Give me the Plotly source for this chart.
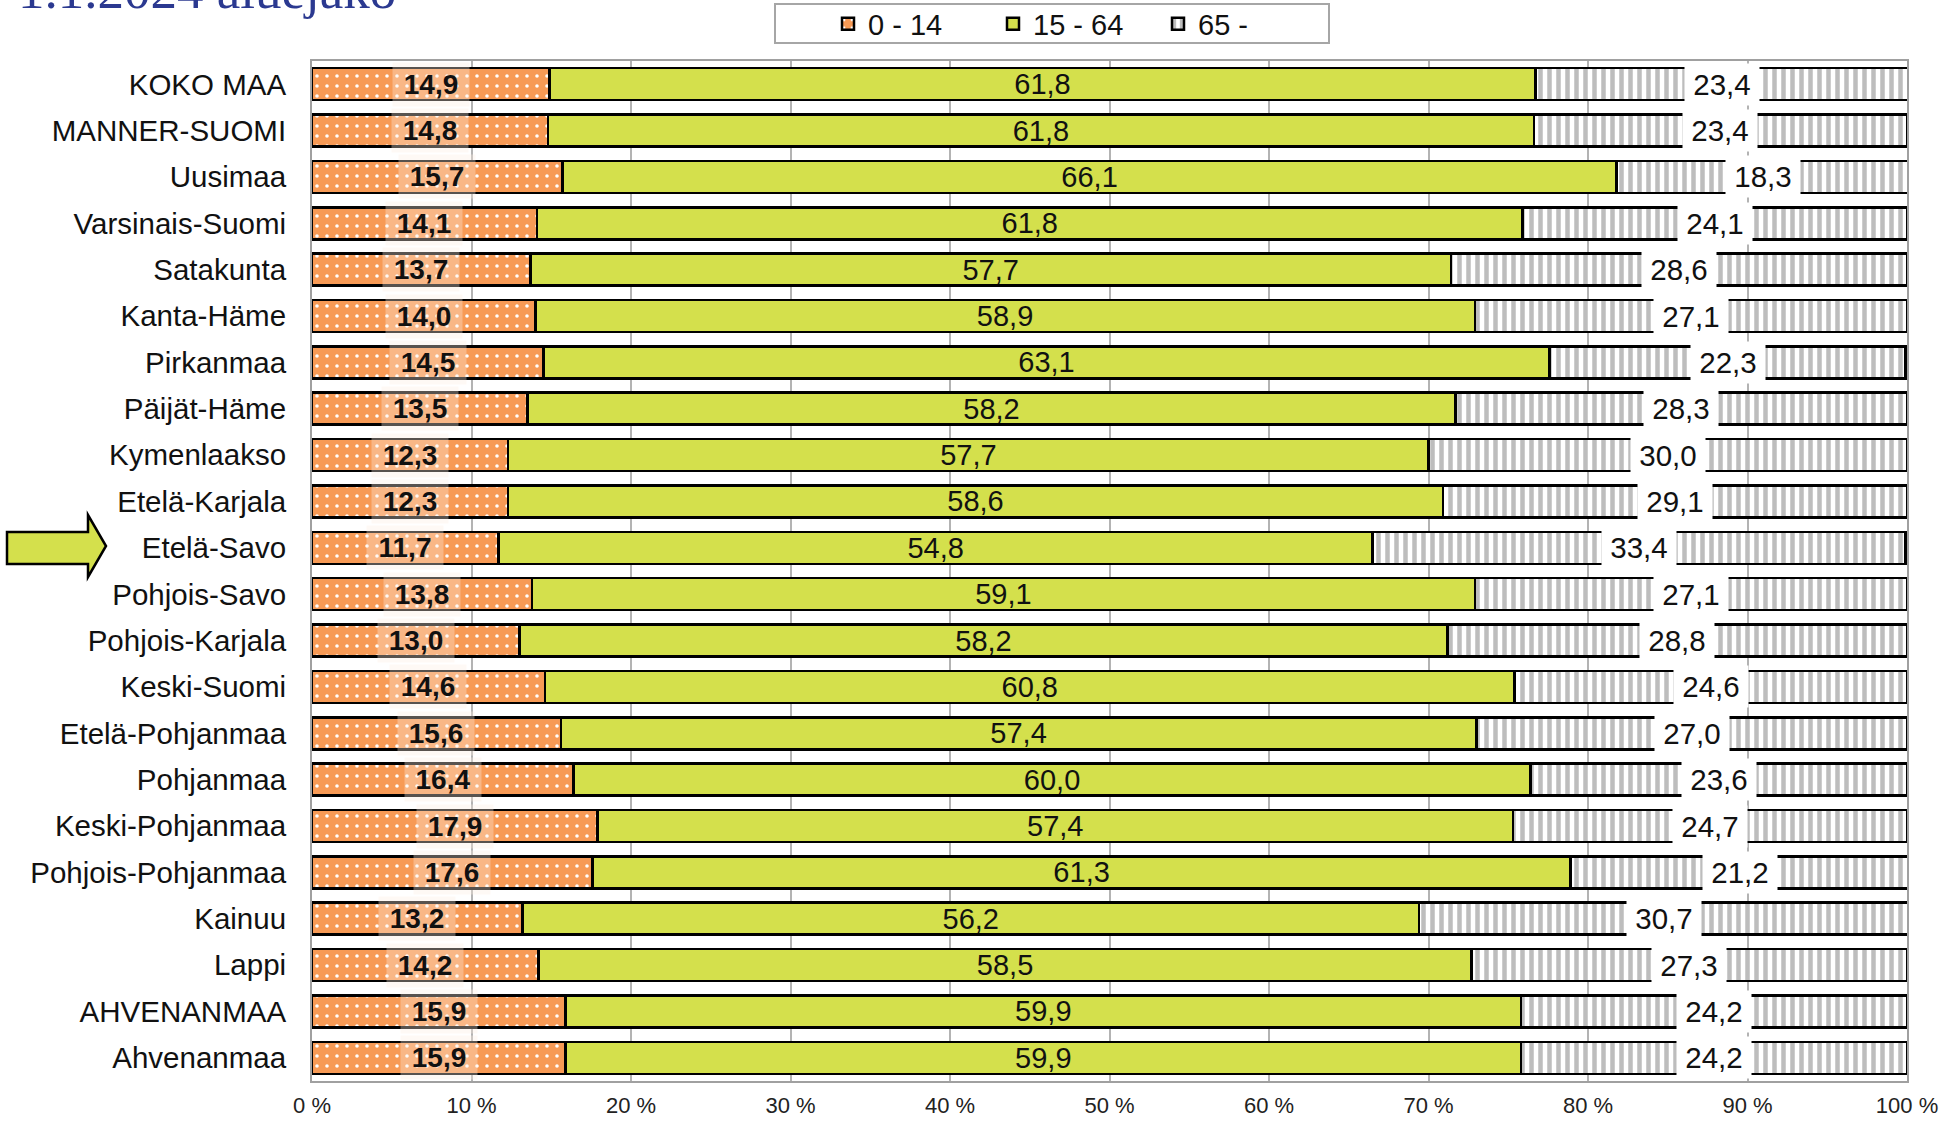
import plotly.graph_objects as go

categories = ["KOKO MAA", "MANNER-SUOMI", "Uusimaa", "Varsinais-Suomi", "Satakunta",
              "Kanta-Häme", "Pirkanmaa", "Päijät-Häme", "Kymenlaakso", "Etelä-Karjala",
              "Etelä-Savo", "Pohjois-Savo", "Pohjois-Karjala", "Keski-Suomi",
              "Etelä-Pohjanmaa", "Pohjanmaa", "Keski-Pohjanmaa", "Pohjois-Pohjanmaa",
              "Kainuu", "Lappi", "AHVENANMAA", "Ahvenanmaa"]
age_0_14 = [14.9, 14.8, 15.7, 14.1, 13.7, 14.0, 14.5, 13.5, 12.3, 12.3, 11.7, 13.8, 13.0,
            14.6, 15.6, 16.4, 17.9, 17.6, 13.2, 14.2, 15.9, 15.9]
age_15_64 = [61.8, 61.8, 66.1, 61.8, 57.7, 58.9, 63.1, 58.2, 57.7, 58.6, 54.8, 59.1, 58.2,
             60.8, 57.4, 60.0, 57.4, 61.3, 56.2, 58.5, 59.9, 59.9]
age_65 = [23.4, 23.4, 18.3, 24.1, 28.6, 27.1, 22.3, 28.3, 30.0, 29.1, 33.4, 27.1, 28.8,
          24.6, 27.0, 23.6, 24.7, 21.2, 30.7, 27.3, 24.2, 24.2]
series_names = ["0 - 14", "15 - 64", "65 -"]
x_ticks = [0, 10, 20, 30, 40, 50, 60, 70, 80, 90, 100]
x_ticklabels = [f"{t} %" for t in x_ticks]
title_text = "1.1.2024 aluejako"

W, H = 1944, 1121
ML, MR, MT, MB = 312, 37, 61, 40
PW, PH = W - ML - MR, H - MT - MB

def fmt(v):
    return f"{v:.1f}".replace(".", ",")

def px_x(p):
    return (p - ML) / PW

def px_y(p):
    return (H - MB - p) / PH

ORANGE = "#F79A55"
GREEN = "#D4E04C"
FONT = "Liberation Sans, Arial, sans-serif"

fig = go.Figure()
fig.add_trace(go.Bar(
    y=categories, x=age_0_14, name=series_names[0], orientation="h",
    marker=dict(color=ORANGE, line=dict(color="black", width=2.5),
                pattern=dict(shape=".", fgcolor="white", bgcolor=ORANGE, size=10, solidity=0.1)),
    hoverinfo="skip"))
fig.add_trace(go.Bar(
    y=categories, x=age_15_64, name=series_names[1], orientation="h",
    marker=dict(color=GREEN, line=dict(color="black", width=2.5)),
    text=[fmt(v) for v in age_15_64], textposition="inside", insidetextanchor="middle",
    constraintext="none", cliponaxis=False,
    textfont=dict(family=FONT, size=29, color="#111111"), textangle=0,
    hoverinfo="skip"))
fig.add_trace(go.Bar(
    y=categories, x=age_65, name=series_names[2], orientation="h",
    marker=dict(color="white", line=dict(color="black", width=2.5),
                pattern=dict(shape="|", fgcolor="#BDBDBD", bgcolor="white", size=9, solidity=0.5)),
    hoverinfo="skip"))

annotations = []
for cat, a, b, c in zip(categories, age_0_14, age_15_64, age_65):
    annotations.append(dict(
        x=a / 2, y=cat, xref="x", yref="y", text=f"<b>{fmt(a)}</b>", showarrow=False,
        font=dict(family=FONT, size=28, color="#111111"),
        bgcolor="rgba(253,238,225,0.35)", width=64, borderpad=6))
    annotations.append(dict(
        x=a + b + c / 2, y=cat, xref="x", yref="y", text=fmt(c), showarrow=False,
        font=dict(family=FONT, size=29.5, color="#111111"),
        bgcolor="white", width=66, borderpad=4))

annotations.append(dict(
    x=px_x(16), y=px_y(21), xref="paper", yref="paper", xanchor="left", yanchor="bottom",
    text=title_text, showarrow=False,
    font=dict(family="Liberation Serif, Times New Roman, serif", size=53, color="#2B3990")))

arrow_pts = [(7, 532), (88, 532), (88, 515), (106, 546), (88, 577), (88, 564), (7, 564)]
path = "M " + " L ".join(f"{px_x(x):.5f},{px_y(y):.5f}" for x, y in arrow_pts) + " Z"

shapes = [
    dict(type="path", xref="paper", yref="paper", path=path,
         fillcolor=GREEN, line=dict(color="black", width=2.5), layer="above"),
    dict(type="rect", xref="paper", yref="paper",
         x0=px_x(775), x1=px_x(1329), y0=px_y(43), y1=px_y(4),
         line=dict(color="#A6A6A6", width=2), fillcolor="white", layer="below"),
]

fig.update_layout(
    template="none",
    width=W, height=H,
    margin=dict(l=ML, r=MR, t=MT, b=MB, pad=0),
    paper_bgcolor="white", plot_bgcolor="white",
    barmode="stack", bargap=0.31,
    font=dict(family=FONT, color="#111111"),
    showlegend=True,
    legend=dict(orientation="h", xref="container", yref="container",
                x=828 / W, y=1 - 24 / H, xanchor="left", yanchor="middle",
                font=dict(family=FONT, size=29, color="#111111"),
                bgcolor="rgba(0,0,0,0)", borderwidth=0, entrywidth=120,
                traceorder="normal"),
    xaxis=dict(range=[0, 100], tickvals=x_ticks, ticktext=x_ticklabels,
               showgrid=True, gridcolor="#B3B3B3", gridwidth=1.5,
               showline=True, linecolor="#A0A0A0", linewidth=2, mirror=True,
               ticks="", ticklabelstandoff=4, zeroline=False, automargin=False,
               tickfont=dict(family=FONT, size=22, color="#222222")),
    yaxis=dict(autorange="reversed", showgrid=False, zeroline=False,
               showline=True, linecolor="#A0A0A0", linewidth=2, mirror=True,
               ticks="", ticklabelstandoff=18, automargin=False,
               tickfont=dict(family=FONT, size=29.5, color="#111111")),
    annotations=annotations,
    shapes=shapes,
)

fig.write_html("out.html", config={"displayModeBar": False},
               post_script="document.body.style.margin='0';")
